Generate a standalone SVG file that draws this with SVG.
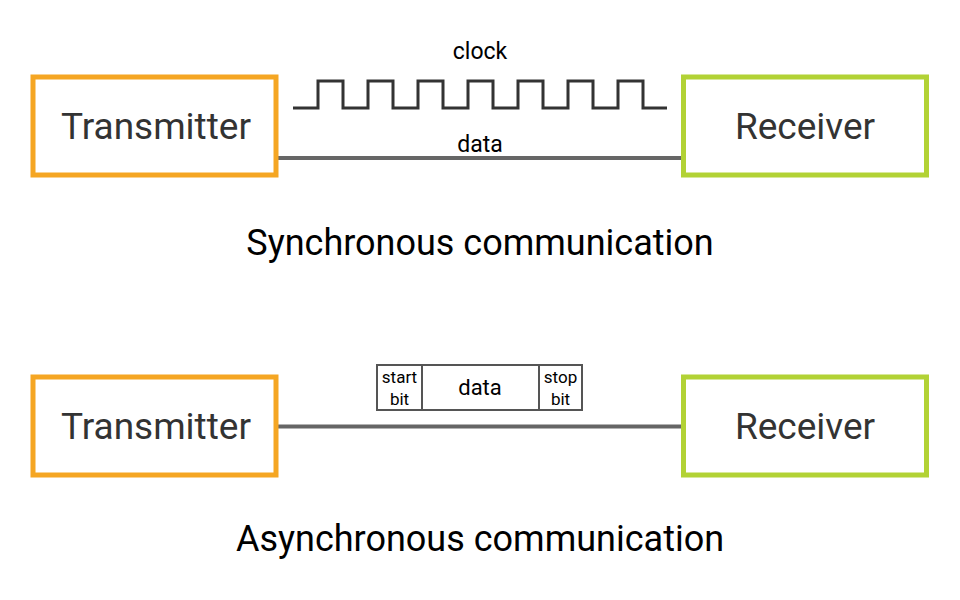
<svg xmlns="http://www.w3.org/2000/svg" width="960" height="600" viewBox="0 0 960 600">
<style>
.tx{fill:#fff;stroke:#F5A623;stroke-width:5}
.rx{fill:#fff;stroke:#B2D235;stroke-width:5}
.lbl{font-family:Roboto,"Liberation Sans",sans-serif;font-size:37px;fill:#333;text-anchor:middle}
.title{font-family:Roboto,"Liberation Sans",sans-serif;font-size:36px;fill:#000;text-anchor:middle}
.small{font-family:Roboto,"Liberation Sans",sans-serif;fill:#000;text-anchor:middle}
.wire{stroke:#666;stroke-width:4;fill:none}
.clk{stroke:#333;stroke-width:3;fill:none}
.frame{fill:#fff;stroke:#555;stroke-width:2}
</style>
<rect width="960" height="600" fill="#fff"/>
<g id="connectors">
<line class="wire" x1="276" y1="158" x2="684" y2="158"/>
<path class="clk" d="M293,108 H318 V81 H343 V108 H368 V81 H393 V108 H418 V81 H443 V108 H468 V81 H493 V108 H518 V81 H543 V108 H568 V81 H593 V108 H618 V81 H643 V108 H667"/>
<text class="small" x="480" y="59" font-size="23">clock</text>
<text class="small" x="480" y="152" font-size="23">data</text>
<line class="wire" x1="276" y1="426.5" x2="684" y2="426.5"/>
<g id="frame">
<rect class="frame" x="377" y="365" width="205" height="45"/>
<line stroke="#555" stroke-width="2" x1="422" y1="365" x2="422" y2="410"/>
<line stroke="#555" stroke-width="2" x1="539" y1="365" x2="539" y2="410"/>
<text class="small" x="399.5" y="383" font-size="17">start</text>
<text class="small" x="399.5" y="405" font-size="17">bit</text>
<text class="small" x="480" y="395" font-size="22">data</text>
<text class="small" x="560.5" y="383" font-size="17">stop</text>
<text class="small" x="560.5" y="405" font-size="17">bit</text>
</g>
</g>
<g id="tx1"><rect class="tx" x="33" y="77" width="243" height="98"/><text class="lbl" x="156" y="139">Transmitter</text></g>
<g id="rx1"><rect class="rx" x="683.5" y="77" width="243" height="98"/><text class="lbl" x="805" y="139">Receiver</text></g>
<g id="tx2"><rect class="tx" x="33" y="377" width="243" height="98"/><text class="lbl" x="156" y="439">Transmitter</text></g>
<g id="rx2"><rect class="rx" x="683.5" y="377" width="243" height="98"/><text class="lbl" x="805" y="439">Receiver</text></g>
<text class="title" x="480" y="255">Synchronous communication</text>
<text class="title" x="480" y="551">Asynchronous communication</text>
</svg>
